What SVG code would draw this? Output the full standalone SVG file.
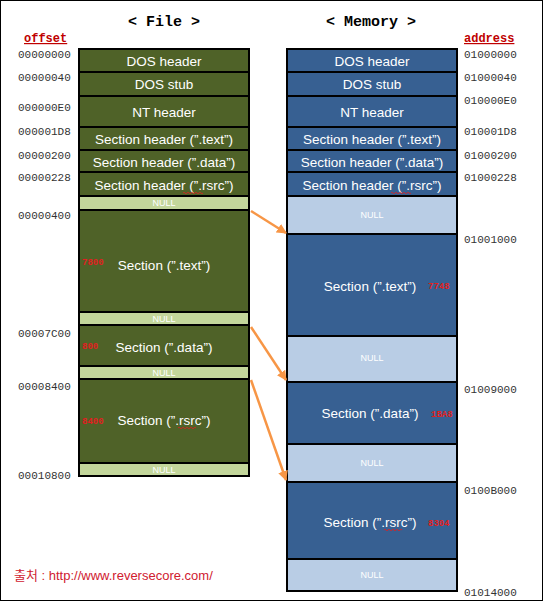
<svg xmlns="http://www.w3.org/2000/svg" width="543" height="601" viewBox="0 0 543 601">
<style>
.bg{fill:#fff}
.f{fill:#4F6228;stroke:#000;stroke-width:2}
.fn{fill:#C3D69B;stroke:#000;stroke-width:2}
.m{fill:#376092;stroke:#000;stroke-width:2}
.mn{fill:#B9CDE5;stroke:#000;stroke-width:2}
.t{font-family:"Liberation Sans","Noto Sans",sans-serif;font-size:13.5px;fill:#fff;text-anchor:middle}
.nl{font-family:"Liberation Sans","Noto Sans",sans-serif;font-size:9px;fill:#fff;text-anchor:middle}
.off{font-family:"Liberation Mono","DejaVu Sans Mono",monospace;font-size:11px;fill:#333}
.offr{text-anchor:end}
.sz{font-family:"Liberation Mono","DejaVu Sans Mono",monospace;font-size:9px;font-weight:bold;fill:#E02020}
.title{font-family:"Liberation Mono","Courier New",monospace;font-size:15px;font-weight:bold;fill:#000;text-anchor:middle}
.hd{font-family:"Liberation Mono","Courier New",monospace;font-size:12px;font-weight:bold;fill:#C00000;text-decoration:underline}
.arr{stroke:#F79646;stroke-width:2.5;fill:none;marker-end:url(#ah)}
.wv{fill:none;stroke:#E02020;stroke-width:0.8}
</style>
<defs>
<marker id="ah" viewBox="0 0 10 10" refX="9" refY="5" markerWidth="4" markerHeight="4" orient="auto" markerUnits="strokeWidth">
<path d="M0,0 L10,5 L0,10 z" fill="#F79646"/>
</marker>
</defs>
<rect class="bg" x="0" y="0" width="543" height="601"/>
<rect x="0.5" y="0.5" width="542" height="600" fill="none" stroke="#000" stroke-width="1"/>

<text class="title" x="164" y="26">&lt; File &gt;</text>
<text class="title" x="371" y="26">&lt; Memory &gt;</text>
<text class="hd" x="24" y="42">offset</text>
<text class="hd" x="464" y="42">address</text>

<g id="file">
<g id="f-dos-header"><rect class="f" x="79" y="49" width="170" height="23"/><text class="t" x="164" y="66">DOS header</text></g>
<g id="f-dos-stub"><rect class="f" x="79" y="72" width="170" height="24"/><text class="t" x="164" y="89">DOS stub</text></g>
<g id="f-nt-header"><rect class="f" x="79" y="96" width="170" height="31"/><text class="t" x="164" y="117">NT header</text></g>
<g id="f-sh-text"><rect class="f" x="79" y="127" width="170" height="23"/><text class="t" x="164" y="144">Section header (”.text”)</text></g>
<g id="f-sh-data"><rect class="f" x="79" y="150" width="170" height="22"/><text class="t" x="164" y="167">Section header (”.data”)</text></g>
<g id="f-sh-rsrc"><rect class="f" x="79" y="172" width="170" height="24"/><text class="t" x="164" y="190">Section header (”.rsrc”)</text><path class="wv" d="M183,193 q1,-1.5 2,0 t2,0 t2,0 t2,0 t2,0 t2,0 t2,0 t2,0 t2,0 t2,0"/></g>
<g id="f-null1"><rect class="fn" x="79" y="196" width="170" height="14"/><text class="nl" x="164" y="206">NULL</text></g>
<g id="f-sec-text"><rect class="f" x="79" y="210" width="170" height="102"/><text class="t" x="164" y="270">Section (”.text”)</text><text class="sz" x="82" y="265">7800</text></g>
<g id="f-null2"><rect class="fn" x="79" y="312" width="170" height="13"/><text class="nl" x="164" y="322">NULL</text></g>
<g id="f-sec-data"><rect class="f" x="79" y="325" width="170" height="41"/><text class="t" x="164" y="352">Section (”.data”)</text><text class="sz" x="82" y="349">800</text></g>
<g id="f-null3"><rect class="fn" x="79" y="366" width="170" height="13"/><text class="nl" x="164" y="376">NULL</text></g>
<g id="f-sec-rsrc"><rect class="f" x="79" y="379" width="170" height="84"/><text class="t" x="164" y="425">Section (”.rsrc”)</text><path class="wv" d="M178,428 q1,-1.5 2,0 t2,0 t2,0 t2,0 t2,0 t2,0 t2,0 t2,0 t2,0"/><text class="sz" x="82" y="424">8400</text></g>
<g id="f-null4"><rect class="fn" x="79" y="463" width="170" height="13"/><text class="nl" x="164" y="473">NULL</text></g>
</g>

<g id="memory">
<g id="m-dos-header"><rect class="m" x="287" y="49" width="170" height="23"/><text class="t" x="372" y="66">DOS header</text></g>
<g id="m-dos-stub"><rect class="m" x="287" y="72" width="170" height="24"/><text class="t" x="372" y="89">DOS stub</text></g>
<g id="m-nt-header"><rect class="m" x="287" y="96" width="170" height="31"/><text class="t" x="372" y="117">NT header</text></g>
<g id="m-sh-text"><rect class="m" x="287" y="127" width="170" height="23"/><text class="t" x="372" y="144">Section header (”.text”)</text></g>
<g id="m-sh-data"><rect class="m" x="287" y="150" width="170" height="22"/><text class="t" x="372" y="167">Section header (”.data”)</text></g>
<g id="m-sh-rsrc"><rect class="m" x="287" y="172" width="170" height="24"/><text class="t" x="372" y="190">Section header (”.rsrc”)</text><path class="wv" d="M391,193 q1,-1.5 2,0 t2,0 t2,0 t2,0 t2,0 t2,0 t2,0 t2,0 t2,0 t2,0"/></g>
<g id="m-null1"><rect class="mn" x="287" y="196" width="170" height="38"/><text class="nl" x="372" y="218">NULL</text></g>
<g id="m-sec-text"><rect class="m" x="287" y="234" width="170" height="102"/><text class="t" x="370" y="291">Section (”.text”)</text><text class="sz" x="428" y="289">7748</text></g>
<g id="m-null2"><rect class="mn" x="287" y="336" width="170" height="46"/><text class="nl" x="372" y="361">NULL</text></g>
<g id="m-sec-data"><rect class="m" x="287" y="382" width="170" height="62"/><text class="t" x="370" y="418">Section (”.data”)</text><text class="sz" x="431" y="417">1BA8</text></g>
<g id="m-null3"><rect class="mn" x="287" y="444" width="170" height="38"/><text class="nl" x="372" y="466">NULL</text></g>
<g id="m-sec-rsrc"><rect class="m" x="287" y="482" width="170" height="77"/><text class="t" x="370" y="527">Section (”.rsrc”)</text><path class="wv" d="M384,530 q1,-1.5 2,0 t2,0 t2,0 t2,0 t2,0 t2,0 t2,0 t2,0 t2,0"/><text class="sz" x="428" y="526">8304</text></g>
<g id="m-null4"><rect class="mn" x="287" y="559" width="170" height="32"/><text class="nl" x="372" y="578">NULL</text></g>
</g>

<g id="offsets">
<text class="off" x="18" y="58">00000000</text>
<text class="off" x="18" y="81">00000040</text>
<text class="off" x="18" y="111">000000E0</text>
<text class="off" x="18" y="135">000001D8</text>
<text class="off" x="18" y="159">00000200</text>
<text class="off" x="18" y="181">00000228</text>
<text class="off" x="18" y="219">00000400</text>
<text class="off" x="18" y="337">00007C00</text>
<text class="off" x="18" y="390">00008400</text>
<text class="off" x="18" y="479">00010800</text>
</g>
<g id="addresses">
<text class="off" x="464" y="58">01000000</text>
<text class="off" x="464" y="81">01000040</text>
<text class="off" x="464" y="104">010000E0</text>
<text class="off" x="464" y="135">010001D8</text>
<text class="off" x="464" y="159">01000200</text>
<text class="off" x="464" y="181">01000228</text>
<text class="off" x="464" y="243">01001000</text>
<text class="off" x="464" y="393">01009000</text>
<text class="off" x="464" y="494">0100B000</text>
<text class="off" x="464" y="596">01014000</text>
</g>

<g id="connectors">
<line class="arr" x1="251" y1="211" x2="286" y2="233"/>
<line class="arr" x1="251" y1="327" x2="286" y2="380"/>
<line class="arr" x1="251" y1="380" x2="286" y2="480"/>
</g>

<text x="14" y="580" font-family="'Liberation Sans','Noto Sans CJK KR',sans-serif" font-size="13" fill="#D02030">출처 : http://www.reversecore.com/</text>
</svg>
